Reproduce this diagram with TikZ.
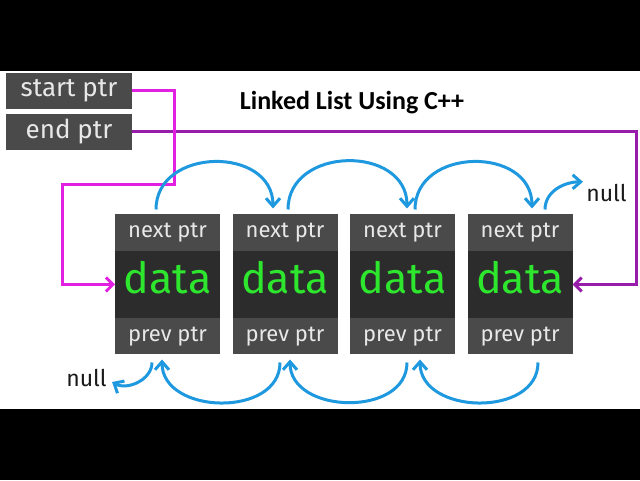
\documentclass[tikz,border=0pt]{standalone}
\usepackage{fontspec}
\setmainfont{Fira Sans}
\newfontfamily\titlefont{Carlito}
\usetikzlibrary{positioning,arrows.meta,calc}
\definecolor{cellgray}{RGB}{74,74,74}
\definecolor{datagray}{RGB}{44,44,44}
\definecolor{labelgray}{RGB}{232,232,232}
\definecolor{datagreen}{RGB}{45,230,45}
\definecolor{ptrblue}{RGB}{30,152,222}
\definecolor{startpink}{RGB}{226,32,226}
\definecolor{endpurple}{RGB}{152,28,170}

\begin{document}
\begin{tikzpicture}[
    x=0.5pt, y=0.5pt,
    headbox/.style={rectangle, fill=cellgray, text=labelgray, minimum width=63pt, minimum height=18pt, inner sep=0pt, outer sep=0pt, font=\fontsize{13}{15}\selectfont},
    ptrcell/.style={rectangle, fill=cellgray, text=labelgray, minimum width=52.5pt, minimum height=18.25pt, inner sep=0pt, outer sep=0pt, font=\fontsize{11}{13}\selectfont},
    datacell/.style={rectangle, fill=datagray, text=datagreen, minimum width=52.5pt, minimum height=33.5pt, inner sep=0pt, outer sep=0pt, text height=15pt, text depth=6pt, font=\fontsize{21.5}{25}\selectfont},
    nulltext/.style={inner sep=0pt, text=black!90, font=\fontsize{11.5}{13}\selectfont},
    title/.style={inner sep=0pt, font=\titlefont\bfseries\fontsize{13}{15}\selectfont},
    link/.style={draw=ptrblue, line width=1.5pt, -{Straight Barb[length=4pt,width=7pt]}},
    headlink/.style={line width=1.5pt, -{Straight Barb[length=3.5pt,width=7pt]}}
]
    \fill[black] (0,0) rectangle (640,480);
    \fill[white] (0,71) rectangle (640,409);

    \node[headbox] (start) at (69,389) {start ptr};
    \node[headbox, below=2.5pt of start] (end) {end ptr};
    \node[title] (heading) at (352,377) {Linked List Using C++};

    \node[datacell] (data1) at (167.5,195.5) {data};
    \node[datacell, right=6.25pt of data1] (data2) {data};
    \node[datacell, right=6.25pt of data2] (data3) {data};
    \node[datacell, right=6.25pt of data3] (data4) {data};

    \node[ptrcell, above=0pt of data1] (next1) {next ptr};
    \node[ptrcell, above=0pt of data2] (next2) {next ptr};
    \node[ptrcell, above=0pt of data3] (next3) {next ptr};
    \node[ptrcell, above=0pt of data4] (next4) {next ptr};

    \node[ptrcell, below=0pt of data1] (prev1) {prev ptr};
    \node[ptrcell, below=0pt of data2] (prev2) {prev ptr};
    \node[ptrcell, below=0pt of data3] (prev3) {prev ptr};
    \node[ptrcell, below=0pt of data4] (prev4) {prev ptr};

    \node[nulltext] (nullnext) at (606.5,287) {null};
    \node[nulltext] (nullprev) at (86.5,102) {null};

    \draw[headlink, endpurple] (end.east) -| ($(data4.east)+(64,0)$) -- (data4.east);
    \draw[headlink, startpink] (start.east) -| (174,295) -- (62,295) |- (data1.west);

    \draw[link] ($(next1.north)+(-11.5,5)$) to[out=90, in=90, looseness=1.37] ($(next2.north)+(-12,6)$);
    \draw[link] ($(next2.north)+(3,5)$) to[out=90, in=90, looseness=1.37] ($(next3.north)+(4.5,6)$);
    \draw[link] ($(next3.north)+(12.5,5)$) to[out=90, in=90, looseness=1.37] ($(next4.north)+(12,6)$);
    \draw[link] ($(next4.north)+(25,5)$) to[out=90, in=180] ($(nullnext.north west)+(-3,2)$);

    \draw[link] ($(prev4.south)+(18,-8)$) to[out=-90, in=-90, looseness=1.2] ($(prev3.south)+(17.5,-5)$);
    \draw[link] ($(prev3.south)+(4.5,-8)$) to[out=-90, in=-90, looseness=1.2] ($(prev2.south)+(5,-5)$);
    \draw[link] ($(prev2.south)+(-5,-8)$) to[out=-90, in=-90, looseness=1.2] ($(prev1.south)+(-5.5,-5)$);
    \draw[link] ($(prev1.south)+(-15.5,-8)$) to[out=-90, in=-30] ($(nullprev.east)+(5,-4)$);
\end{tikzpicture}
\end{document}
